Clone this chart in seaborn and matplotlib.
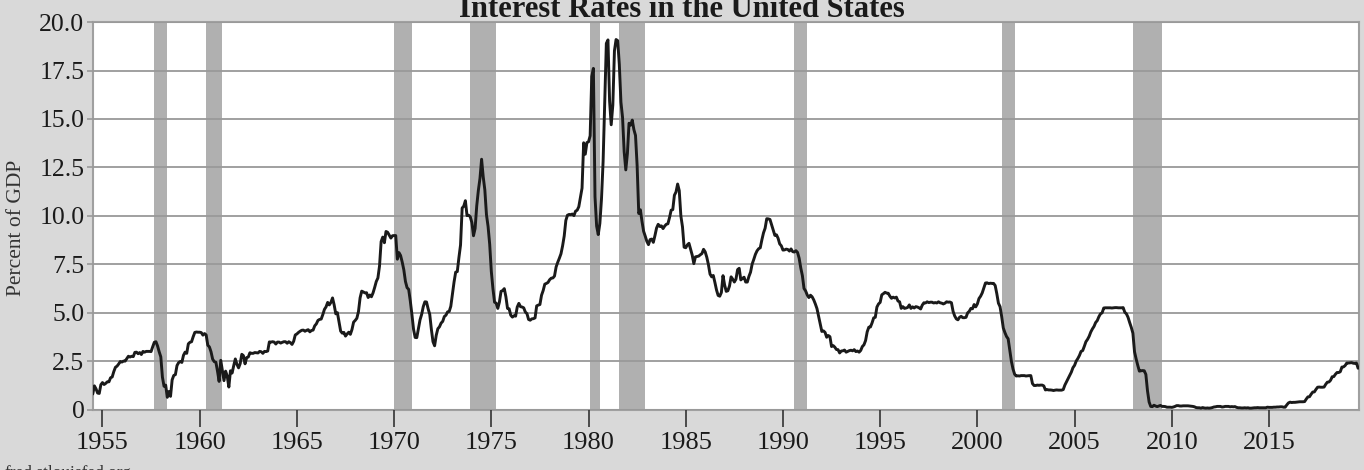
import numpy as np
import pandas as pd
import seaborn as sns
import matplotlib.pyplot as plt
from matplotlib.ticker import FuncFormatter

# effective federal funds rate, monthly, Jul 1954 - Aug 2019
rate = [
    0.80, 1.22, 1.07, 0.85, 0.83, 1.28,  # 1954 (Jul-Dec)
    1.39, 1.29, 1.35, 1.43, 1.43, 1.64, 1.68, 1.96, 2.18, 2.24, 2.35, 2.48,  # 1955
    2.45, 2.50, 2.50, 2.62, 2.75, 2.71, 2.75, 2.73, 2.95, 2.96, 2.88, 2.94,  # 1956
    2.84, 3.00, 2.96, 3.00, 3.00, 3.00, 2.99, 3.24, 3.47, 3.50, 3.28, 2.98,  # 1957
    2.72, 1.67, 1.20, 1.26, 0.63, 0.93, 0.68, 1.53, 1.76, 1.80, 2.27, 2.42,  # 1958
    2.48, 2.43, 2.80, 2.96, 2.90, 3.39, 3.47, 3.50, 3.76, 3.98, 4.00, 3.99,  # 1959
    3.99, 3.97, 3.84, 3.92, 3.85, 3.32, 3.23, 2.98, 2.60, 2.47, 2.44, 1.98,  # 1960
    1.45, 2.54, 2.02, 1.49, 1.98, 1.73, 1.16, 2.00, 1.88, 2.26, 2.61, 2.33,  # 1961
    2.15, 2.37, 2.85, 2.78, 2.36, 2.68, 2.71, 2.93, 2.90, 2.90, 2.94, 2.93,  # 1962
    2.92, 3.00, 2.98, 2.90, 3.00, 2.99, 3.02, 3.49, 3.48, 3.50, 3.48, 3.38,  # 1963
    3.48, 3.48, 3.43, 3.47, 3.50, 3.50, 3.42, 3.50, 3.45, 3.36, 3.52, 3.85,  # 1964
    3.90, 3.98, 4.04, 4.09, 4.10, 4.04, 4.09, 4.12, 4.01, 4.08, 4.10, 4.32,  # 1965
    4.42, 4.60, 4.65, 4.67, 4.90, 5.17, 5.30, 5.53, 5.40, 5.53, 5.76, 5.40,  # 1966
    4.94, 5.00, 4.53, 4.05, 3.94, 3.98, 3.79, 3.90, 3.99, 3.88, 4.13, 4.51,  # 1967
    4.60, 4.71, 5.05, 5.76, 6.11, 6.07, 6.02, 6.03, 5.78, 5.91, 5.82, 6.02,  # 1968
    6.30, 6.61, 6.79, 7.41, 8.67, 8.90, 8.61, 9.19, 9.15, 9.00, 8.85, 8.97,  # 1969
    8.98, 8.98, 7.76, 8.10, 7.95, 7.61, 7.21, 6.61, 6.29, 6.20, 5.60, 4.90,  # 1970
    4.14, 3.72, 3.71, 4.16, 4.63, 4.91, 5.31, 5.56, 5.55, 5.20, 4.91, 4.14,  # 1971
    3.50, 3.29, 3.83, 4.17, 4.27, 4.46, 4.55, 4.80, 4.87, 5.04, 5.06, 5.33,  # 1972
    5.94, 6.58, 7.09, 7.12, 7.84, 8.49, 10.40, 10.50, 10.78, 10.01, 10.03, 9.95,  # 1973
    9.65, 8.97, 9.35, 10.51, 11.31, 11.93, 12.92, 12.01, 11.34, 10.06, 9.45, 8.53,  # 1974
    7.13, 6.24, 5.54, 5.49, 5.22, 5.55, 6.10, 6.14, 6.24, 5.82, 5.22, 5.20,  # 1975
    4.87, 4.77, 4.84, 4.82, 5.29, 5.48, 5.31, 5.29, 5.25, 5.03, 4.95, 4.65,  # 1976
    4.61, 4.68, 4.69, 4.73, 5.35, 5.39, 5.42, 5.90, 6.14, 6.47, 6.51, 6.56,  # 1977
    6.70, 6.78, 6.79, 6.89, 7.36, 7.60, 7.81, 8.04, 8.45, 8.96, 9.76, 10.03,  # 1978
    10.07, 10.06, 10.09, 10.01, 10.24, 10.29, 10.47, 10.94, 11.43, 13.77, 13.18, 13.78,  # 1979
    13.82, 14.13, 17.19, 17.61, 10.98, 9.47, 9.03, 9.61, 10.87, 12.81, 15.85, 18.90,  # 1980
    19.08, 15.93, 14.70, 15.72, 18.52, 19.10, 19.04, 17.82, 15.87, 15.08, 13.31, 12.37,  # 1981
    13.22, 14.78, 14.68, 14.94, 14.45, 14.15, 12.59, 10.12, 10.31, 9.71, 9.20, 8.95,  # 1982
    8.68, 8.51, 8.77, 8.80, 8.63, 8.98, 9.37, 9.56, 9.45, 9.48, 9.34, 9.47,  # 1983
    9.56, 9.59, 9.91, 10.29, 10.32, 11.06, 11.23, 11.64, 11.30, 9.99, 9.43, 8.38,  # 1984
    8.35, 8.50, 8.58, 8.27, 7.97, 7.53, 7.88, 7.90, 7.92, 7.99, 8.05, 8.27,  # 1985
    8.14, 7.86, 7.48, 6.99, 6.85, 6.92, 6.56, 6.17, 5.89, 5.85, 6.04, 6.91,  # 1986
    6.43, 6.10, 6.13, 6.37, 6.85, 6.73, 6.58, 6.73, 7.22, 7.29, 6.69, 6.77,  # 1987
    6.83, 6.58, 6.58, 6.87, 7.09, 7.51, 7.75, 8.01, 8.19, 8.30, 8.35, 8.76,  # 1988
    9.12, 9.36, 9.85, 9.84, 9.81, 9.53, 9.24, 8.99, 9.02, 8.84, 8.55, 8.45,  # 1989
    8.23, 8.24, 8.28, 8.26, 8.18, 8.29, 8.15, 8.13, 8.20, 8.11, 7.81, 7.31,  # 1990
    6.91, 6.25, 6.12, 5.91, 5.78, 5.90, 5.82, 5.66, 5.45, 5.21, 4.81, 4.43,  # 1991
    4.03, 4.06, 3.98, 3.73, 3.82, 3.76, 3.25, 3.30, 3.22, 3.10, 3.09, 2.92,  # 1992
    3.02, 3.03, 3.07, 2.96, 3.00, 3.04, 3.06, 3.03, 3.09, 2.99, 3.02, 2.96,  # 1993
    3.05, 3.25, 3.34, 3.56, 4.01, 4.25, 4.26, 4.47, 4.73, 4.76, 5.29, 5.45,  # 1994
    5.53, 5.92, 5.98, 6.05, 6.01, 6.00, 5.85, 5.74, 5.80, 5.76, 5.80, 5.60,  # 1995
    5.56, 5.22, 5.31, 5.22, 5.24, 5.27, 5.40, 5.22, 5.30, 5.24, 5.31, 5.29,  # 1996
    5.25, 5.19, 5.39, 5.51, 5.50, 5.56, 5.52, 5.54, 5.54, 5.50, 5.52, 5.50,  # 1997
    5.56, 5.51, 5.49, 5.45, 5.49, 5.56, 5.54, 5.55, 5.51, 5.07, 4.83, 4.68,  # 1998
    4.63, 4.76, 4.81, 4.74, 4.74, 4.76, 4.99, 5.07, 5.22, 5.20, 5.42, 5.30,  # 1999
    5.45, 5.73, 5.85, 6.02, 6.27, 6.53, 6.54, 6.50, 6.52, 6.51, 6.51, 6.40,  # 2000
    5.98, 5.49, 5.31, 4.80, 4.21, 3.97, 3.77, 3.65, 3.07, 2.49, 2.09, 1.82,  # 2001
    1.73, 1.74, 1.73, 1.75, 1.75, 1.75, 1.73, 1.74, 1.75, 1.75, 1.34, 1.24,  # 2002
    1.24, 1.26, 1.25, 1.26, 1.26, 1.22, 1.01, 1.03, 1.01, 1.01, 1.00, 0.98,  # 2003
    1.00, 1.01, 1.00, 1.00, 1.00, 1.03, 1.26, 1.43, 1.61, 1.76, 1.93, 2.16,  # 2004
    2.28, 2.50, 2.63, 2.79, 3.00, 3.04, 3.26, 3.50, 3.62, 3.78, 4.00, 4.16,  # 2005
    4.29, 4.49, 4.59, 4.79, 4.94, 4.99, 5.24, 5.25, 5.25, 5.25, 5.25, 5.24,  # 2006
    5.25, 5.26, 5.26, 5.25, 5.25, 5.25, 5.26, 5.02, 4.94, 4.76, 4.49, 4.24,  # 2007
    3.94, 2.98, 2.61, 2.28, 1.98, 2.00, 2.01, 2.00, 1.81, 0.97, 0.39, 0.16,  # 2008
    0.15, 0.22, 0.18, 0.15, 0.18, 0.21, 0.16, 0.16, 0.15, 0.12, 0.12, 0.12,  # 2009
    0.11, 0.13, 0.16, 0.20, 0.20, 0.18, 0.18, 0.19, 0.19, 0.19, 0.19, 0.18,  # 2010
    0.17, 0.16, 0.14, 0.10, 0.09, 0.09, 0.07, 0.10, 0.08, 0.07, 0.08, 0.07,  # 2011
    0.08, 0.10, 0.13, 0.14, 0.16, 0.16, 0.16, 0.13, 0.14, 0.16, 0.16, 0.16,  # 2012
    0.14, 0.15, 0.14, 0.15, 0.11, 0.09, 0.09, 0.08, 0.08, 0.09, 0.08, 0.09,  # 2013
    0.07, 0.07, 0.08, 0.09, 0.09, 0.10, 0.09, 0.09, 0.09, 0.09, 0.09, 0.12,  # 2014
    0.11, 0.11, 0.11, 0.12, 0.12, 0.13, 0.13, 0.14, 0.14, 0.12, 0.12, 0.24,  # 2015
    0.34, 0.38, 0.36, 0.37, 0.37, 0.38, 0.39, 0.40, 0.40, 0.40, 0.41, 0.54,  # 2016
    0.65, 0.66, 0.79, 0.90, 0.91, 1.04, 1.15, 1.16, 1.15, 1.15, 1.16, 1.30,  # 2017
    1.41, 1.42, 1.51, 1.69, 1.70, 1.82, 1.91, 1.91, 1.95, 2.19, 2.20, 2.27,  # 2018
    2.40, 2.40, 2.41, 2.42, 2.39, 2.38, 2.40, 2.13,  # 2019 (Jan-Aug)
]

# recessions (shaded), in years
rec_start = [1957.667, 1960.333, 1970.0, 1973.917, 1980.083, 1981.583, 1990.583, 2001.25, 2008.0]
rec_end = [1958.333, 1961.167, 1970.917, 1975.25, 1980.583, 1982.917, 1991.25, 2001.917, 2009.5]

x_ticks = [1955, 1960, 1965, 1970, 1975, 1980, 1985, 1990, 1995, 2000, 2005, 2010, 2015]
y_ticks = [0, 2.5, 5.0, 7.5, 10.0, 12.5, 15.0, 17.5, 20.0]

dates = pd.date_range('1954-07-01', periods=len(rate), freq='MS')
df = pd.DataFrame({'year': dates.year + (dates.month - 1) / 12, 'rate': rate})

sns.set_theme(style='white')
plt.rcParams['font.family'] = ['Liberation Serif', 'DejaVu Serif']

fig = plt.figure(figsize=(13.64, 4.70), dpi=100, facecolor='#d9d9d9')
ax = fig.add_axes([0.068, 0.1287, 0.9282, 0.8243])
ax.set_facecolor('white')

for s, e in zip(rec_start, rec_end):
    ax.axvspan(s, e, color='#b0b0b0', lw=0, zorder=0)

sns.lineplot(data=df, x='year', y='rate', ax=ax, color='#1a1a1a', lw=2.1, zorder=3)

ax.set_xlim(1954.5, 2019.62)
ax.set_ylim(0, 20)
ax.set_xticks(x_ticks)
ax.set_yticks(y_ticks)
ax.yaxis.set_major_formatter(FuncFormatter(lambda v, p: '0' if v == 0 else f'{v:.1f}'))
ax.grid(axis='y', color='#999999', lw=1.3, zorder=1)
ax.set_axisbelow(False)
for sp in ax.spines.values():
    sp.set_color('#a0a0a0')
    sp.set_linewidth(1.5)

ax.tick_params(axis='x', direction='out', length=12, width=1.2, color='#333333',
               labelsize=19, labelcolor='#1a1a1a', pad=4, bottom=True)
ax.tick_params(axis='y', direction='out', length=4, width=1.2, color='#999999',
               labelsize=18.5, labelcolor='#1a1a1a', pad=2, left=True)

ax.set_xlabel('')
ax.set_ylabel('Percent of GDP', fontsize=15.5, color='#333333')
ax.yaxis.set_label_coords(-0.053, 0.47)

fig.text(0.5, 0.964, 'Interest Rates in the United States', ha='center', va='baseline',
         fontsize=22, fontweight='bold', color='#1a1a1a')
fig.text(0.003, -0.014, 'fred.stlouisfed.org', ha='left', va='baseline',
         fontsize=12.5, color='#333333')

fig.savefig('out.png', dpi=100, facecolor=fig.get_facecolor())
